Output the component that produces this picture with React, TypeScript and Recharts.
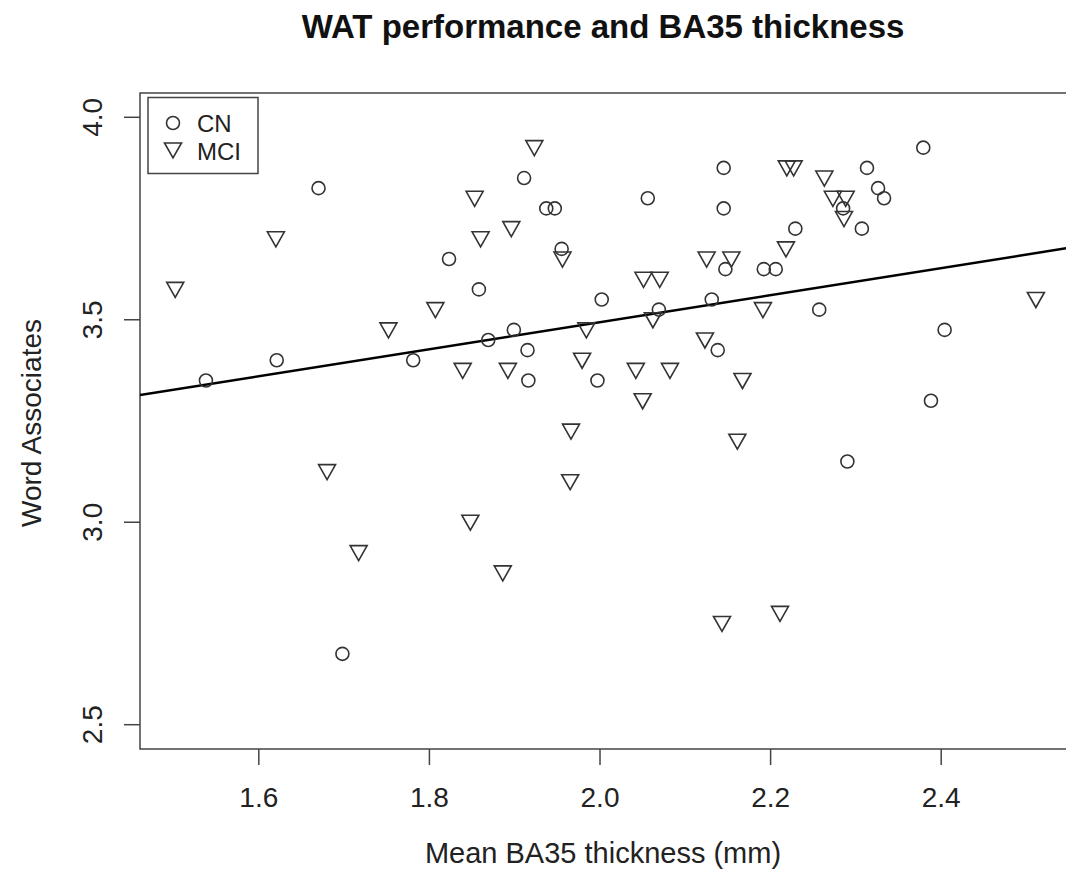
import React from 'react'
import {
  ScatterChart,
  Scatter,
  XAxis,
  YAxis,
  ReferenceArea,
  ReferenceLine,
} from 'recharts'

// values
const cnX = [1.538, 1.621, 1.670, 1.698, 1.781, 1.823, 1.858, 1.869, 1.899, 1.911, 1.915, 1.916, 1.937, 1.947, 1.955, 1.997, 2.002, 2.056, 2.069, 2.131, 2.138, 2.145, 2.145, 2.147, 2.192, 2.206, 2.229, 2.257, 2.285, 2.290, 2.307, 2.313, 2.326, 2.333, 2.379, 2.388, 2.404]
const cnY = [3.35, 3.4, 3.825, 2.675, 3.4, 3.65, 3.575, 3.45, 3.475, 3.85, 3.425, 3.35, 3.775, 3.775, 3.675, 3.35, 3.55, 3.8, 3.525, 3.55, 3.425, 3.875, 3.775, 3.625, 3.625, 3.625, 3.725, 3.525, 3.775, 3.15, 3.725, 3.875, 3.825, 3.8, 3.925, 3.3, 3.475]

const mciX = [1.502, 1.620, 1.680, 1.717, 1.752, 1.807, 1.839, 1.848, 1.853, 1.860, 1.886, 1.892, 1.896, 1.923, 1.956, 1.965, 1.966, 1.979, 1.984, 2.042, 2.050, 2.051, 2.062, 2.070, 2.082, 2.123, 2.125, 2.143, 2.154, 2.161, 2.167, 2.191, 2.211, 2.218, 2.219, 2.227, 2.263, 2.273, 2.286, 2.288, 2.511]
const mciY = [3.575, 3.7, 3.125, 2.925, 3.475, 3.525, 3.375, 3.0, 3.8, 3.7, 2.875, 3.375, 3.725, 3.925, 3.65, 3.1, 3.225, 3.4, 3.475, 3.375, 3.3, 3.6, 3.5, 3.6, 3.375, 3.45, 3.65, 2.75, 3.65, 3.2, 3.35, 3.525, 2.775, 3.675, 3.875, 3.875, 3.85, 3.8, 3.75, 3.8, 3.55]

// regression line end points
const fitX = [1.4607, 2.551]
const fitY = [3.314, 3.678]

const xTicks = [1.6, 1.8, 2.0, 2.2, 2.4]
const yTicks = [2.5, 3.0, 3.5, 4.0]

const xDomain: [number, number] = [1.4607, 2.551]
const yDomain: [number, number] = [2.44, 4.06]

const cnData = cnX.map((x, i) => ({ x, y: cnY[i] }))
const mciData = mciX.map((x, i) => ({ x, y: mciY[i] }))

const FONT = '"Liberation Sans", Arial, sans-serif'
const INK = '#333'

const Circle = (props: any) => (
  <circle cx={props.cx} cy={props.cy} r={6.5} fill="none" stroke={INK} strokeWidth={1.6} />
)

const DownTri = (props: any) => {
  const { cx, cy } = props
  return (
    <polygon
      points={`${cx - 8.5},${cy - 7} ${cx + 8.5},${cy - 7} ${cx},${cy + 8}`}
      fill="none"
      stroke={INK}
      strokeWidth={1.6}
    />
  )
}

const XTick = ({ x, y, payload }: any) => (
  <text x={x} y={y + 42} textAnchor="middle" fontSize={28} fontFamily={FONT} fill="#222">
    {Number(payload.value).toFixed(1)}
  </text>
)

const YTick = ({ x, y, payload }: any) => (
  <text
    transform={`translate(${x - 22}, ${y}) rotate(-90)`}
    textAnchor="middle"
    fontSize={28}
    fontFamily={FONT}
    fill="#222"
  >
    {Number(payload.value).toFixed(1)}
  </text>
)

export default function App() {
  return (
    <div style={{ position: 'absolute', left: 0, top: 0, width: 1066, height: 882, overflow: 'hidden', background: '#fff' }}>
      <ScatterChart width={1071} height={882} margin={{ top: 93, right: 1, left: 0, bottom: 0 }}>
        <XAxis
          type="number"
          dataKey="x"
          domain={xDomain}
          allowDataOverflow
          ticks={xTicks}
          tickSize={16}
          tickMargin={0}
          tickLine={{ stroke: '#444', strokeWidth: 1.5 }}
          axisLine={false}
          height={133}
          tick={<XTick />}
        />
        <YAxis
          type="number"
          dataKey="y"
          domain={yDomain}
          allowDataOverflow
          ticks={yTicks}
          tickSize={16}
          tickMargin={0}
          tickLine={{ stroke: '#444', strokeWidth: 1.5 }}
          axisLine={false}
          width={140}
          tick={<YTick />}
        />
        <ReferenceArea
          x1={xDomain[0]}
          x2={xDomain[1]}
          y1={yDomain[0]}
          y2={yDomain[1]}
          fill="none"
          stroke="#444"
          strokeWidth={1.5}
          ifOverflow="visible"
        />
        <Scatter data={cnData} shape={<Circle />} isAnimationActive={false} />
        <Scatter data={mciData} shape={<DownTri />} isAnimationActive={false} />
        <ReferenceLine
          segment={[
            { x: fitX[0], y: fitY[0] },
            { x: fitX[1], y: fitY[1] },
          ]}
          stroke="#000"
          strokeWidth={2.5}
          ifOverflow="hidden"
        />
      </ScatterChart>

      <svg width={1066} height={882} style={{ position: 'absolute', left: 0, top: 0, pointerEvents: 'none' }}>
        <text x={603} y={38} textAnchor="middle" fontSize={33} fontWeight="bold" fontFamily={FONT} fill="#111">
          WAT performance and BA35 thickness
        </text>
        <text x={603} y={863} textAnchor="middle" fontSize={29} fontFamily={FONT} fill="#222">
          Mean BA35 thickness (mm)
        </text>
        <text transform="translate(41, 423) rotate(-90)" textAnchor="middle" fontSize={28} fontFamily={FONT} fill="#222">
          Word Associates
        </text>
        <rect x={148} y={97.5} width={110} height={76} fill="#fff" stroke="#444" strokeWidth={1.5} />
        <circle cx={173} cy={123} r={6.5} fill="none" stroke={INK} strokeWidth={1.6} />
        <polygon points="164.5,143 181.5,143 173,158" fill="none" stroke={INK} strokeWidth={1.6} />
        <text x={197} y={132} fontSize={24} fontFamily={FONT} fill="#222">CN</text>
        <text x={197} y={160} fontSize={24} fontFamily={FONT} fill="#222">MCI</text>
      </svg>
    </div>
  )
}
